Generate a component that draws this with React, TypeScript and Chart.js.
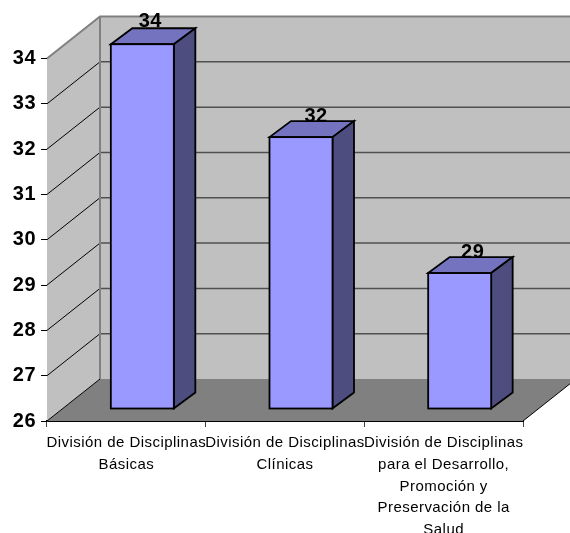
import React, { useEffect, useRef } from "react";
import { Chart, registerables } from "chart.js";

Chart.register(...registerables);

const categories: string[][] = [
  ["División de Disciplinas", "Básicas"],
  ["División de Disciplinas", "Clínicas"],
  ["División de Disciplinas", "para el Desarrollo,", "Promoción y", "Preservación de la", "Salud"],
];
const values: number[] = [34.05, 32, 29];
const valueLabels: string[] = ["34", "32", "29"];
const labelShift: number[] = [8, 15, 13];
const labelRise: number[] = [17.5, 15, 15.5];

const DEPTH_X = 53;
const DEPTH_Y = 42;
const BAR_X = 16;
const BAR_Y = 12;
const SIDE_X = 21.5;
const SIDE_Y = 16;
const OUTLINE = 1.8;

const walls3d = {
  id: "walls3d",
  beforeDraw(chart: any) {
    chart.ctx.letterSpacing = "0.45px";
  },
  beforeDatasetsDraw(chart: any) {
    const { ctx, chartArea: a, scales } = chart;
    const y = scales.y;
    ctx.save();
    // back wall
    ctx.fillStyle = "#C0C0C0";
    ctx.fillRect(a.left + DEPTH_X, a.top - DEPTH_Y, a.right - a.left + 2, a.bottom - a.top);
    // left wall
    ctx.beginPath();
    ctx.moveTo(a.left, a.top);
    ctx.lineTo(a.left + DEPTH_X, a.top - DEPTH_Y);
    ctx.lineTo(a.left + DEPTH_X, a.bottom - DEPTH_Y);
    ctx.lineTo(a.left, a.bottom);
    ctx.closePath();
    ctx.fill();
    // floor
    ctx.fillStyle = "#808080";
    ctx.beginPath();
    ctx.moveTo(a.left, a.bottom);
    ctx.lineTo(a.right, a.bottom);
    ctx.lineTo(a.right + DEPTH_X, a.bottom - DEPTH_Y);
    ctx.lineTo(a.left + DEPTH_X, a.bottom - DEPTH_Y);
    ctx.closePath();
    ctx.fill();
    // grid lines
    y.ticks.forEach((t: any) => {
      const py = y.getPixelForValue(t.value);
      if (t.value > y.min && t.value < y.max) {
        ctx.strokeStyle = "#000000";
        ctx.lineWidth = 1;
        ctx.beginPath();
        ctx.moveTo(a.left, py);
        ctx.lineTo(a.left + DEPTH_X, py - DEPTH_Y);
        ctx.stroke();
        ctx.strokeStyle = "#505050";
        ctx.lineWidth = 1.5;
        ctx.beginPath();
        ctx.moveTo(a.left + DEPTH_X, py - DEPTH_Y);
        ctx.lineTo(a.right + DEPTH_X, py - DEPTH_Y);
        ctx.stroke();
      }
    });
    // wall edges
    ctx.strokeStyle = "#808080";
    ctx.lineWidth = 2;
    ctx.beginPath();
    ctx.moveTo(a.left, a.top);
    ctx.lineTo(a.left + DEPTH_X, a.top - DEPTH_Y);
    ctx.lineTo(a.right + DEPTH_X, a.top - DEPTH_Y);
    ctx.moveTo(a.left + DEPTH_X, a.top - DEPTH_Y);
    ctx.lineTo(a.left + DEPTH_X, a.bottom - DEPTH_Y);
    ctx.stroke();
    ctx.strokeStyle = "#000000";
    ctx.lineWidth = 1;
    ctx.beginPath();
    ctx.moveTo(a.left, a.bottom);
    ctx.lineTo(a.left + DEPTH_X, a.bottom - DEPTH_Y);
    ctx.moveTo(a.right, a.bottom);
    ctx.lineTo(a.right + DEPTH_X, a.bottom - DEPTH_Y);
    ctx.stroke();

    // value labels and bar depth faces
    const meta = chart.getDatasetMeta(0);
    ctx.font = "bold 20px 'Liberation Sans'";
    ctx.fillStyle = "#000000";
    ctx.textAlign = "center";
    ctx.textBaseline = "alphabetic";
    meta.data.forEach((bar: any, i: number) => {
      ctx.fillText(valueLabels[i], bar.x + BAR_X + labelShift[i], bar.y - BAR_Y - labelRise[i]);
    });
    meta.data.forEach((bar: any) => {
      const half = bar.width / 2;
      const l = bar.x + BAR_X - half;
      const r = bar.x + BAR_X + half;
      const t = bar.y - BAR_Y;
      const b = bar.base - BAR_Y;
      ctx.lineJoin = "miter";
      ctx.lineWidth = OUTLINE;
      ctx.strokeStyle = "#000000";
      ctx.fillStyle = "#7373BF";
      ctx.beginPath();
      ctx.moveTo(l, t);
      ctx.lineTo(l + SIDE_X, t - SIDE_Y);
      ctx.lineTo(r + SIDE_X, t - SIDE_Y);
      ctx.lineTo(r, t);
      ctx.closePath();
      ctx.fill();
      ctx.stroke();
      ctx.fillStyle = "#4D4D7F";
      ctx.beginPath();
      ctx.moveTo(r, t);
      ctx.lineTo(r + SIDE_X, t - SIDE_Y);
      ctx.lineTo(r + SIDE_X, b - SIDE_Y);
      ctx.lineTo(r, b);
      ctx.closePath();
      ctx.fill();
      ctx.stroke();
    });
    ctx.restore();
    // bars are drawn by the library on the mid-depth plane
    ctx.save();
    ctx.translate(BAR_X, -BAR_Y);
  },
  afterDatasetsDraw(chart: any) {
    const ctx = chart.ctx;
    ctx.restore();
    const meta = chart.getDatasetMeta(0);
    ctx.save();
    ctx.lineWidth = OUTLINE;
    ctx.strokeStyle = "#000000";
    meta.data.forEach((bar: any) => {
      const half = bar.width / 2;
      ctx.strokeRect(bar.x + BAR_X - half, bar.y - BAR_Y, bar.width, bar.base - bar.y);
    });
    ctx.restore();
  },
};

export default function App() {
  const ref = useRef<HTMLCanvasElement>(null);
  useEffect(() => {
    const chart = new Chart(ref.current as HTMLCanvasElement, {
      type: "bar",
      data: {
        labels: categories,
        datasets: [
          {
            data: values,
            base: 26,
            backgroundColor: "#9999FF",
            borderWidth: 0,
            inflateAmount: 0,
            barThickness: 63,
            clip: false,
          } as any,
        ],
      },
      options: {
        responsive: false,
        animation: false,
        layout: { padding: { left: 0, right: 47, top: 58.5, bottom: 0 } },
        plugins: { legend: { display: false }, tooltip: { enabled: false }, title: { display: false } },
        scales: {
          x: {
            afterFit(s: any) {
              s.height = 112;
            },
            grid: { display: true, drawOnChartArea: false, drawTicks: true, tickLength: 6, color: "#404040", lineWidth: 1 },
            border: { display: true, color: "#000000", width: 2 },
            ticks: {
              color: "#000000",
              font: { family: "'Liberation Sans'", size: 15, lineHeight: 1.45 },
              maxRotation: 0,
              minRotation: 0,
              autoSkip: false,
              padding: 5,
            },
          },
          y: {
            min: 26,
            max: 34,
            afterFit(s: any) {
              s.width = 47;
            },
            grid: { display: true, drawOnChartArea: false, drawTicks: true, tickLength: 6, color: "#000000", lineWidth: 1 },
            border: { display: true, color: "#303030", width: 1 },
            ticks: {
              stepSize: 1,
              color: "#000000",
              font: { family: "'Liberation Sans'", size: 20, weight: "bold" },
              padding: 5,
            },
          },
        },
      } as any,
      plugins: [walls3d],
    });
    return () => chart.destroy();
  }, []);
  return (
    <div style={{ position: "absolute", left: 0, top: 0, width: 570, height: 533, overflow: "hidden", background: "#FFFFFF" }}>
      <canvas ref={ref} width={570} height={533} style={{ display: "block" }} />
    </div>
  );
}
